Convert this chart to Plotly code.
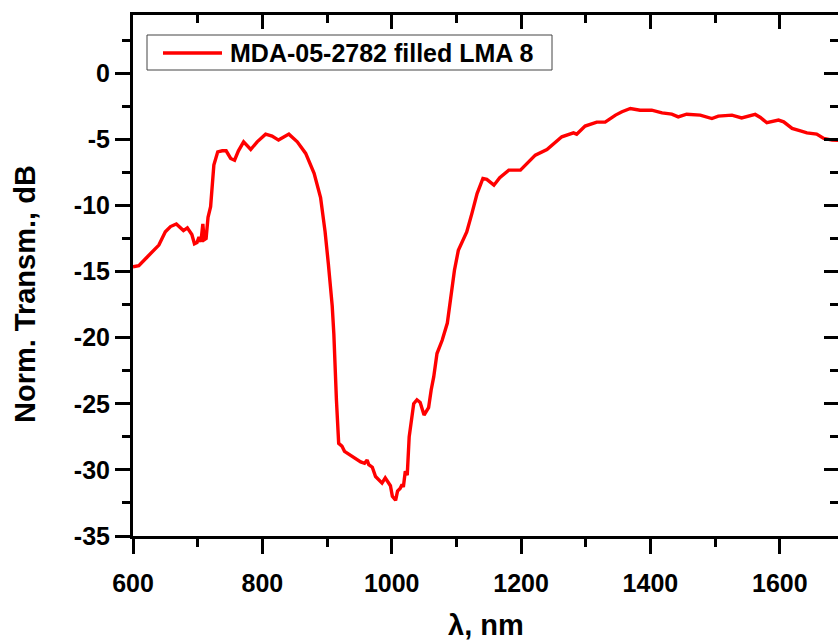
import plotly.graph_objects as go

wavelength_nm = [600, 609, 622, 640, 650, 658, 667, 678, 684, 691, 695, 699, 702, 705, 708, 710, 713,
                 716, 720, 722, 725, 731, 738, 744, 751, 757, 763, 771, 782, 792, 805, 815, 825, 841,
                 854, 867, 880, 890, 897, 902, 905, 908, 910.5, 912, 914.5, 918, 923, 927, 939, 952, 958, 962,
                 964.5, 970, 975, 985, 990, 998, 1001, 1006, 1009, 1013, 1016, 1018, 1021, 1024, 1027,
                 1031, 1034, 1039, 1044, 1050, 1057, 1061, 1065, 1070, 1078, 1086, 1091, 1097, 1103,
                 1116, 1124, 1132, 1141, 1147, 1158, 1167, 1181, 1199, 1222, 1240, 1263, 1281, 1286,
                 1299, 1317, 1330, 1346, 1356, 1369, 1384, 1402, 1418, 1433, 1443, 1456, 1477, 1495,
                 1505, 1526, 1541, 1562, 1570, 1580, 1598, 1606, 1619, 1632, 1642, 1657, 1668, 1681, 1700]
transmission_db = [-14.64, -14.56, -13.9, -13.0, -12.0, -11.6, -11.4, -11.9, -11.7, -12.2, -12.9, -12.8,
                   -12.4, -12.75, -11.4, -12.6, -12.5, -10.9, -10.1, -8.6, -6.95, -5.95, -5.87, -5.87,
                   -6.45, -6.58, -5.87, -5.19, -5.77, -5.19, -4.61, -4.76, -5.06, -4.61, -5.19, -6.07,
                   -7.58, -9.4, -12.0, -14.4, -15.8, -17.6, -19.7, -22.2, -24.7, -28.0, -28.2, -28.6, -29.0,
                   -29.4, -29.5, -29.25, -29.6, -29.8, -30.5, -31.0, -30.6, -31.2, -32.0, -32.3, -31.6,
                   -31.4, -31.1, -31.3, -30.1, -30.4, -27.5, -26.2, -25.0, -24.7, -24.9, -25.85, -25.3,
                   -23.96, -22.95, -21.2, -20.2, -18.9, -17.2, -14.9, -13.4, -12.0, -10.6, -9.1, -7.96,
                   -8.03, -8.47, -7.9, -7.33, -7.33, -6.2, -5.77, -4.81, -4.51, -4.61, -4.0, -3.7, -3.7,
                   -3.17, -2.92, -2.67, -2.8, -2.8, -3.0, -3.1, -3.3, -3.1, -3.17, -3.43, -3.25, -3.17,
                   -3.38, -3.12, -3.35, -3.75, -3.55, -3.68, -4.18, -4.36, -4.51, -4.61, -4.94, -5.06, -5.1]
series_name = "MDA-05-2782 filled LMA 8"
x_title = "λ, nm"
y_title = "Norm. Transm., dB"

x_tick_values = [600, 800, 1000, 1200, 1400, 1600]
x_tick_labels = ["600", "800", "1000", "1200", "1400", "1600"]
y_tick_values = [0, -5, -10, -15, -20, -25, -30, -35]
y_tick_labels = ["0", "-5", "-10", "-15", "-20", "-25", "-30", "-35"]

x_range = [600, 1690]
y_range = [-35, 4.4]

FONT = "Liberation Sans, Arial, sans-serif"
LINE_RED = "#ff0000"

fig = go.Figure()
fig.add_trace(go.Scatter(x=wavelength_nm, y=transmission_db, mode="lines", name=series_name,
                         line=dict(color=LINE_RED, width=3.4), showlegend=False))
fig.add_trace(go.Scatter(x=[None], y=[None], xaxis="x2", yaxis="y2", showlegend=False,
                         hoverinfo="skip"))

tickfont = dict(family=FONT, size=25, color="black", weight="bold")
common = dict(showgrid=False, zeroline=False, linecolor="black", linewidth=3,
              tickcolor="black", tickwidth=3, automargin=False)

# plot area: x 133..838 px, y 15..536 px
L, R, T, B = 133, 838, 15, 536
W, H = R - L, B - T


def px_x(p):
    return (p - L) / W


def px_y(p):
    return (B - p) / H


fig.update_layout(
    template="none",
    width=838, height=641,
    margin=dict(l=L, r=838 - R, t=T, b=641 - B, pad=0),
    paper_bgcolor="white", plot_bgcolor="white",
    showlegend=False,
    xaxis=dict(range=x_range, showline=True, ticks="outside", ticklen=15,
               tickvals=x_tick_values, ticktext=x_tick_labels, tickfont=tickfont,
               ticklabelstandoff=8,
               minor=dict(dtick=100, tick0=600, ticks="outside", ticklen=8, tickwidth=3, tickcolor="black"),
               **common),
    yaxis=dict(range=y_range, showline=True, ticks="outside", ticklen=15,
               tickvals=y_tick_values, ticktext=y_tick_labels, tickfont=tickfont,
               minor=dict(dtick=2.5, tick0=0, ticks="outside", ticklen=8, tickwidth=3, tickcolor="black"),
               **common),
    xaxis2=dict(range=x_range, overlaying="x", side="top", anchor="y2", showline=True,
                ticks="inside", ticklen=14, tickvals=x_tick_values, showticklabels=False,
                minor=dict(dtick=100, tick0=600, ticks="inside", ticklen=8, tickwidth=3, tickcolor="black"),
                **common),
    yaxis2=dict(range=y_range, overlaying="y", side="right", anchor="x2",
                ticks="inside", ticklen=14, tickvals=y_tick_values, showticklabels=False,
                minor=dict(dtick=2.5, tick0=0, ticks="inside", ticklen=8, tickwidth=3, tickcolor="black"),
                showgrid=False, zeroline=False, showline=False, tickcolor="black", tickwidth=3,
                automargin=False),
    annotations=[
        dict(text=x_title, xref="paper", yref="paper", x=0.5, y=0, xanchor="center", yanchor="middle",
             yshift=-(625 - B), showarrow=False,
             font=dict(family=FONT, size=29, color="black", weight="bold")),
        dict(text=y_title, xref="paper", yref="paper", x=0, y=px_y(294), xanchor="center", yanchor="middle",
             xshift=-(L - 25), textangle=-90, showarrow=False,
             font=dict(family=FONT, size=29, color="black", weight="bold")),
        dict(text=series_name, xref="paper", yref="paper", x=px_x(228), y=px_y(53), xanchor="left",
             yanchor="middle", showarrow=False,
             font=dict(family=FONT, size=25, color="black", weight="bold")),
    ],
    shapes=[
        dict(type="rect", xref="paper", yref="paper", x0=px_x(147), x1=px_x(552), y0=px_y(70), y1=px_y(35),
             line=dict(color="#444444", width=1), fillcolor="white", layer="above"),
        dict(type="line", xref="paper", yref="paper", x0=px_x(163), x1=px_x(222), y0=px_y(53), y1=px_y(53),
             line=dict(color=LINE_RED, width=3.4), layer="above"),
    ],
)

fig.write_html("out.html",
               config={"displayModeBar": False},
               post_script="document.body.style.margin='0px';"
                           "document.body.style.overflow='hidden';"
                           "document.documentElement.style.overflow='hidden';")
